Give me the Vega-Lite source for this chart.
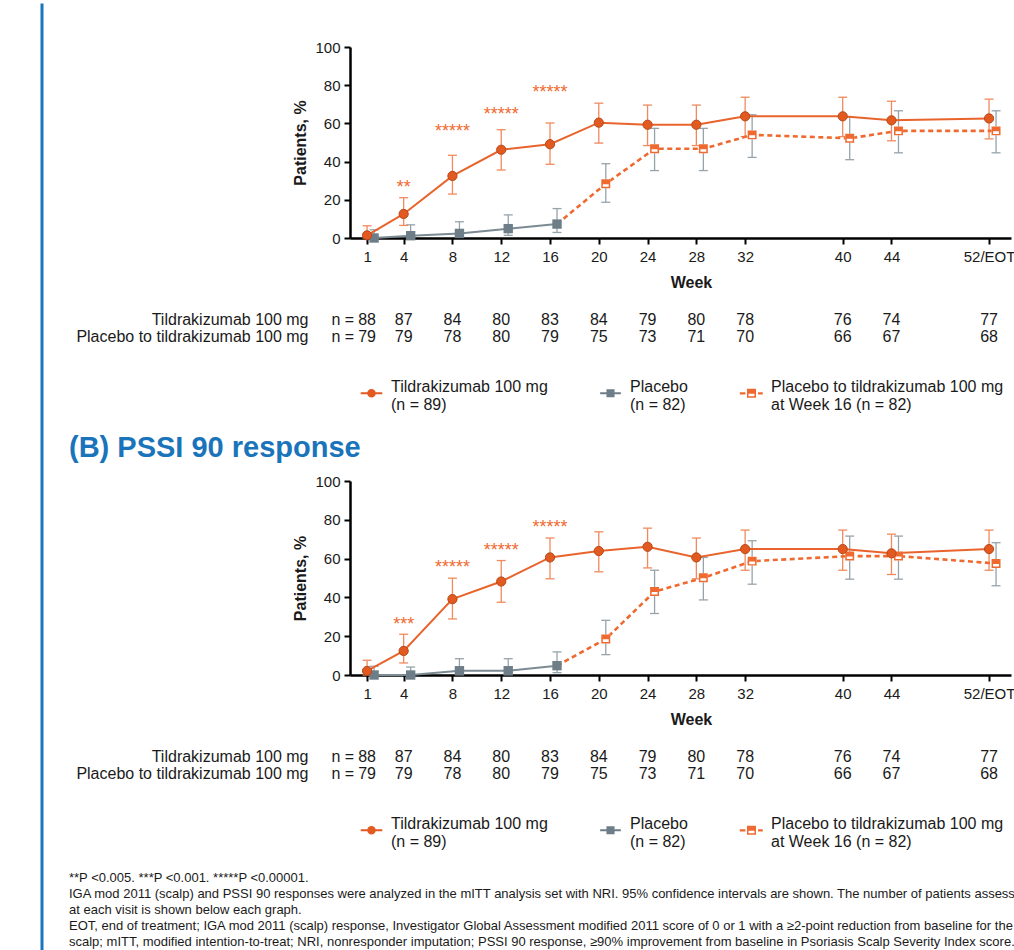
{
  "$schema": "https://vega.github.io/schema/vega-lite/v6.json",
  "padding": {"left": 38.5, "top": 0, "right": 0, "bottom": 0},
  "background": "white",
  "config": {
    "font": "Liberation Sans",
    "view": {"stroke": null},
    "axis": {"grid": false, "domainColor": "#000000", "domainWidth": 2.5, "tickColor": "#000000", "tickWidth": 2, "tickSize": 6, "labelFontSize": 15, "labelColor": "#1a1a1a", "titleFontSize": 16, "titleColor": "#1a1a1a", "titleFontWeight": "bold", "labelFont": "Liberation Sans", "titleFont": "Liberation Sans"},
    "axisX": {"labelPadding": 5, "titlePadding": 10, "labelAngle": 0, "labelFlush": false},
    "axisY": {"labelPadding": 4, "titlePadding": 6},
    "title": {"font": "Liberation Sans"},
    "legend": {"labelFont": "Liberation Sans"}
  },
  "datasets": {
    "points": [
      {"panel": "A", "series": "tild", "week": 1, "pct": 1.4, "lo": 0, "hi": 6.4},
      {"panel": "A", "series": "tild", "week": 4, "pct": 12.6, "lo": 6.6, "hi": 21.1},
      {"panel": "A", "series": "tild", "week": 8, "pct": 32.5, "lo": 23, "hi": 43.3},
      {"panel": "A", "series": "tild", "week": 12, "pct": 46.2, "lo": 35.6, "hi": 56.7},
      {"panel": "A", "series": "tild", "week": 16, "pct": 49.1, "lo": 38.6, "hi": 60.2},
      {"panel": "A", "series": "tild", "week": 20, "pct": 60.4, "lo": 49.7, "hi": 70.6},
      {"panel": "A", "series": "tild", "week": 24, "pct": 59.3, "lo": 48.4, "hi": 69.6},
      {"panel": "A", "series": "tild", "week": 28, "pct": 59.3, "lo": 48.4, "hi": 69.6},
      {"panel": "A", "series": "tild", "week": 32, "pct": 63.7, "lo": 53.1, "hi": 73.7},
      {"panel": "A", "series": "tild", "week": 40, "pct": 63.7, "lo": 53.1, "hi": 73.7},
      {"panel": "A", "series": "tild", "week": 44, "pct": 61.6, "lo": 50.9, "hi": 71.6},
      {"panel": "A", "series": "tild", "week": 52, "pct": 62.6, "lo": 51.9, "hi": 72.7},
      {"panel": "A", "series": "pbo", "week": 1, "pct": 0, "lo": 0, "hi": 4.3},
      {"panel": "A", "series": "pbo", "week": 4, "pct": 1.2, "lo": 0, "hi": 6.9},
      {"panel": "A", "series": "pbo", "week": 8, "pct": 2.4, "lo": 0.3, "hi": 8.5},
      {"panel": "A", "series": "pbo", "week": 12, "pct": 4.9, "lo": 1.4, "hi": 12.1},
      {"panel": "A", "series": "pbo", "week": 16, "pct": 7.3, "lo": 2.9, "hi": 15.4},
      {"panel": "A", "series": "switch", "week": 20, "pct": 28.4, "lo": 18.7, "hi": 38.9},
      {"panel": "A", "series": "switch", "week": 24, "pct": 46.7, "lo": 35.3, "hi": 57.4},
      {"panel": "A", "series": "switch", "week": 28, "pct": 46.7, "lo": 35.3, "hi": 57.4},
      {"panel": "A", "series": "switch", "week": 32, "pct": 54.0, "lo": 42.2, "hi": 64.5},
      {"panel": "A", "series": "switch", "week": 40, "pct": 52.2, "lo": 41.0, "hi": 63.3},
      {"panel": "A", "series": "switch", "week": 44, "pct": 56.1, "lo": 44.6, "hi": 66.6},
      {"panel": "A", "series": "switch", "week": 52, "pct": 56.1, "lo": 44.6, "hi": 66.6},
      {"panel": "B", "series": "tild", "week": 1, "pct": 2.1, "lo": 0, "hi": 7.6},
      {"panel": "B", "series": "tild", "week": 4, "pct": 12.4, "lo": 6.2, "hi": 21},
      {"panel": "B", "series": "tild", "week": 8, "pct": 39.1, "lo": 28.9, "hi": 49.9},
      {"panel": "B", "series": "tild", "week": 12, "pct": 48.2, "lo": 37.5, "hi": 59},
      {"panel": "B", "series": "tild", "week": 16, "pct": 60.6, "lo": 49.6, "hi": 70.6},
      {"panel": "B", "series": "tild", "week": 20, "pct": 63.9, "lo": 53.2, "hi": 73.8},
      {"panel": "B", "series": "tild", "week": 24, "pct": 66.1, "lo": 55.2, "hi": 75.7},
      {"panel": "B", "series": "tild", "week": 28, "pct": 60.6, "lo": 49.6, "hi": 70.6},
      {"panel": "B", "series": "tild", "week": 32, "pct": 64.9, "lo": 54.0, "hi": 74.7},
      {"panel": "B", "series": "tild", "week": 40, "pct": 64.9, "lo": 54.0, "hi": 74.7},
      {"panel": "B", "series": "tild", "week": 44, "pct": 62.7, "lo": 51.8, "hi": 72.6},
      {"panel": "B", "series": "tild", "week": 52, "pct": 64.9, "lo": 54.0, "hi": 74.7},
      {"panel": "B", "series": "pbo", "week": 1, "pct": 0, "lo": 0, "hi": 4.5},
      {"panel": "B", "series": "pbo", "week": 4, "pct": 0, "lo": 0, "hi": 4.1},
      {"panel": "B", "series": "pbo", "week": 8, "pct": 2.2, "lo": 0.2, "hi": 8.4},
      {"panel": "B", "series": "pbo", "week": 12, "pct": 2.2, "lo": 0.2, "hi": 8.4},
      {"panel": "B", "series": "pbo", "week": 16, "pct": 4.8, "lo": 1.2, "hi": 11.9},
      {"panel": "B", "series": "switch", "week": 20, "pct": 18.6, "lo": 10.5, "hi": 28.2},
      {"panel": "B", "series": "switch", "week": 24, "pct": 43.0, "lo": 31.7, "hi": 54.0},
      {"panel": "B", "series": "switch", "week": 28, "pct": 50.1, "lo": 38.7, "hi": 60.6},
      {"panel": "B", "series": "switch", "week": 32, "pct": 58.7, "lo": 46.8, "hi": 69.2},
      {"panel": "B", "series": "switch", "week": 40, "pct": 61.3, "lo": 49.4, "hi": 71.6},
      {"panel": "B", "series": "switch", "week": 44, "pct": 61.3, "lo": 49.4, "hi": 71.6},
      {"panel": "B", "series": "switch", "week": 52, "pct": 57.5, "lo": 46.0, "hi": 68.2}
    ],
    "stars": [
      {"panel": "A", "week": 4, "y": 28.3, "stars": "**"},
      {"panel": "A", "week": 8, "y": 57.6, "stars": "*****"},
      {"panel": "A", "week": 12, "y": 66.5, "stars": "*****"},
      {"panel": "A", "week": 16, "y": 78.2, "stars": "*****"},
      {"panel": "B", "week": 4, "y": 27.9, "stars": "***"},
      {"panel": "B", "week": 8, "y": 57.3, "stars": "*****"},
      {"panel": "B", "week": 12, "y": 65.9, "stars": "*****"},
      {"panel": "B", "week": 16, "y": 77.7, "stars": "*****"}
    ],
    "ntable": [
      {"group": "Tildrakizumab 100 mg", "week": 1, "n": 88},
      {"group": "Tildrakizumab 100 mg", "week": 4, "n": 87},
      {"group": "Tildrakizumab 100 mg", "week": 8, "n": 84},
      {"group": "Tildrakizumab 100 mg", "week": 12, "n": 80},
      {"group": "Tildrakizumab 100 mg", "week": 16, "n": 83},
      {"group": "Tildrakizumab 100 mg", "week": 20, "n": 84},
      {"group": "Tildrakizumab 100 mg", "week": 24, "n": 79},
      {"group": "Tildrakizumab 100 mg", "week": 28, "n": 80},
      {"group": "Tildrakizumab 100 mg", "week": 32, "n": 78},
      {"group": "Tildrakizumab 100 mg", "week": 40, "n": 76},
      {"group": "Tildrakizumab 100 mg", "week": 44, "n": 74},
      {"group": "Tildrakizumab 100 mg", "week": 52, "n": 77},
      {"group": "Placebo to tildrakizumab 100 mg", "week": 1, "n": 79},
      {"group": "Placebo to tildrakizumab 100 mg", "week": 4, "n": 79},
      {"group": "Placebo to tildrakizumab 100 mg", "week": 8, "n": 78},
      {"group": "Placebo to tildrakizumab 100 mg", "week": 12, "n": 80},
      {"group": "Placebo to tildrakizumab 100 mg", "week": 16, "n": 79},
      {"group": "Placebo to tildrakizumab 100 mg", "week": 20, "n": 75},
      {"group": "Placebo to tildrakizumab 100 mg", "week": 24, "n": 73},
      {"group": "Placebo to tildrakizumab 100 mg", "week": 28, "n": 71},
      {"group": "Placebo to tildrakizumab 100 mg", "week": 32, "n": 70},
      {"group": "Placebo to tildrakizumab 100 mg", "week": 40, "n": 66},
      {"group": "Placebo to tildrakizumab 100 mg", "week": 44, "n": 67},
      {"group": "Placebo to tildrakizumab 100 mg", "week": 52, "n": 68}
    ],
    "legend": [
      {"entry": "Tildrakizumab 100 mg|(n = 89)"},
      {"entry": "Placebo|(n = 82)"},
      {"entry": "Placebo to tildrakizumab 100 mg|at Week 16 (n = 82)"}
    ]
  },
  "spacing": 23.5,
  "hconcat": [
    {
      "width": 1,
      "height": 947,
      "data": {"values": [{"v": 0}, {"v": 1}]},
      "mark": {"type": "point", "opacity": 0},
      "encoding": {"y": {"field": "v", "type": "quantitative", "scale": {"domain": [0, 1], "nice": false}, "axis": {"domainColor": "#1b75bb", "domainWidth": 3, "labels": false, "ticks": false, "title": null, "grid": false}}}
    },
    {
      "spacing": 21,
      "resolve": {"scale": {"x": "independent", "color": "independent", "shape": "independent"}, "legend": {"color": "independent", "shape": "independent"}},
      "vconcat": [
        {
          "width": 661,
          "height": 15.5,
          "data": {"values": [{"k": 1}]},
          "mark": {"type": "point", "opacity": 0}
        },
        {
          "width": 661,
          "height": 191,
          "data": {"name": "points"},
          "transform": [{"filter": "datum.panel == 'A'"}],
          "encoding": {
            "x": {"field": "week", "type": "quantitative", "scale": {"domain": [-0.4, 53.8], "nice": false, "zero": false}, "axis": {"values": [1, 4, 8, 12, 16, 20, 24, 28, 32, 40, 44, 52], "labelExpr": "datum.value == 52 ? '52/EOT' : datum.label", "title": "Week", "titleX": 341}},
            "y": {"field": "pct", "type": "quantitative", "scale": {"domain": [0, 100], "nice": false}, "axis": {"values": [0, 20, 40, 60, 80, 100], "title": "Patients, %"}}
          },
          "layer": [
            {"transform": [{"filter": "datum.series != 'tild'"}], "mark": {"type": "rule", "color": "#97a3aa", "strokeWidth": 1.3, "xOffset": 7}, "encoding": {"y": {"field": "lo", "type": "quantitative"}, "y2": {"field": "hi"}}},
            {"transform": [{"filter": "datum.series != 'tild'"}], "mark": {"type": "tick", "orient": "horizontal", "color": "#97a3aa", "size": 9, "thickness": 1.3, "opacity": 1, "xOffset": 7}, "encoding": {"y": {"field": "hi", "type": "quantitative"}}},
            {"transform": [{"filter": "datum.series != 'tild'"}], "mark": {"type": "tick", "orient": "horizontal", "color": "#97a3aa", "size": 9, "thickness": 1.3, "opacity": 1, "xOffset": 7}, "encoding": {"y": {"field": "lo", "type": "quantitative"}}},
            {"transform": [{"filter": "datum.series == 'tild'"}], "mark": {"type": "rule", "color": "#f08a5e", "strokeWidth": 1.3}, "encoding": {"y": {"field": "lo", "type": "quantitative"}, "y2": {"field": "hi"}}},
            {"transform": [{"filter": "datum.series == 'tild'"}], "mark": {"type": "tick", "orient": "horizontal", "color": "#f08a5e", "size": 9, "thickness": 1.3, "opacity": 1}, "encoding": {"y": {"field": "hi", "type": "quantitative"}}},
            {"transform": [{"filter": "datum.series == 'tild'"}], "mark": {"type": "tick", "orient": "horizontal", "color": "#f08a5e", "size": 9, "thickness": 1.3, "opacity": 1}, "encoding": {"y": {"field": "lo", "type": "quantitative"}}},
            {"transform": [{"filter": "datum.series == 'pbo'"}], "mark": {"type": "line", "color": "#7b8a93", "strokeWidth": 2, "xOffset": 7}},
            {"transform": [{"filter": "datum.series == 'switch' || (datum.series == 'pbo' && datum.week == 16)"}], "mark": {"type": "line", "color": "#ef6a30", "strokeWidth": 2.6, "strokeDash": [5, 3.5], "xOffset": 7}},
            {"transform": [{"filter": "datum.series == 'tild'"}], "mark": {"type": "line", "color": "#e8642c", "strokeWidth": 2}},
            {"transform": [{"filter": "datum.series == 'pbo'"}], "mark": {"type": "point", "shape": "square", "filled": true, "fill": "#6d7e88", "size": 88, "opacity": 1, "strokeWidth": 0, "xOffset": 7}},
            {"transform": [{"filter": "datum.series == 'switch'"}], "mark": {"type": "point", "shape": "square", "filled": true, "fill": "#ffffff", "size": 80, "opacity": 1, "strokeWidth": 0, "xOffset": 7}},
            {"transform": [{"filter": "datum.series == 'switch'"}], "mark": {"type": "point", "shape": "M-1,-1H1V0H-1Z M-1,0H1V1H-1Z M-0.66,0.1V0.68H0.66V0.1Z", "filled": true, "fill": "#ef6a30", "size": 80, "opacity": 1, "strokeWidth": 0, "xOffset": 7}},
            {"transform": [{"filter": "datum.series == 'tild'"}], "mark": {"type": "point", "shape": "circle", "filled": true, "fill": "#e35a20", "stroke": "#b6481a", "strokeWidth": 1, "size": 85, "opacity": 1}},
            {"data": {"name": "stars"}, "transform": [{"filter": "datum.panel == 'A'"}], "mark": {"type": "text", "color": "#ef6a30", "fontSize": 18, "baseline": "middle", "dy": 4}, "encoding": {"x": {"field": "week", "type": "quantitative"}, "y": {"field": "y", "type": "quantitative"}, "text": {"field": "stars"}}}
          ]
        },
        {
          "width": 661,
          "height": 34,
          "layer": [
            {"data": {"name": "ntable"}, "mark": {"type": "text", "fontSize": 16, "color": "#1a1a1a", "baseline": "middle"}, "encoding": {"x": {"field": "week", "type": "quantitative", "scale": {"domain": [-0.4, 53.8], "nice": false, "zero": false}, "axis": null}, "y": {"field": "group", "type": "nominal", "scale": {"domain": ["Tildrakizumab 100 mg", "Placebo to tildrakizumab 100 mg"], "paddingInner": 0, "paddingOuter": 0}, "axis": {"domain": false, "ticks": false, "labelPadding": 42, "labelFontSize": 16, "labelColor": "#1a1a1a", "labelLimit": 400, "title": null}}, "text": {"field": "n"}}},
            {"data": {"name": "ntable"}, "transform": [{"filter": "datum.week == 1"}], "mark": {"type": "text", "fontSize": 16, "color": "#1a1a1a", "baseline": "middle", "align": "right", "dx": -13, "text": "n ="}, "encoding": {"x": {"field": "week", "type": "quantitative"}, "y": {"field": "group", "type": "nominal"}}},
            {"data": {"name": "legend"}, "transform": [{"filter": "datum.entry == null"}], "mark": {"type": "point", "filled": true, "opacity": 1}, "encoding": {
              "color": {"field": "entry", "type": "nominal", "scale": {"domain": ["Tildrakizumab 100 mg|(n = 89)", "Placebo|(n = 82)", "Placebo to tildrakizumab 100 mg|at Week 16 (n = 82)"], "range": ["#e35a20", "#6d7e88", "#ef6a30"]}, "legend": {"orient": "none", "legendX": 13.5, "legendY": 68, "direction": "horizontal", "title": null, "labelExpr": "split(datum.label, '|')", "labelFontSize": 16, "labelColor": "#1a1a1a", "labelOffset": 11.5, "symbolSize": 81, "symbolStrokeWidth": 0, "columnPadding": 51, "labelLimit": 500, "padding": 0, "gridAlign": "each"}},
              "shape": {"field": "entry", "type": "nominal", "scale": {"domain": ["Tildrakizumab 100 mg|(n = 89)", "Placebo|(n = 82)", "Placebo to tildrakizumab 100 mg|at Week 16 (n = 82)"], "range": ["M-2.4,1.18H2.4V1.62H-2.4Z M0.95,1.4A0.95,0.95,0,1,1,-0.95,1.4A0.95,0.95,0,1,1,0.95,1.4Z", "M-2.3,1.18H2.3V1.62H-2.3Z M-0.9,0.5H0.9V2.3H-0.9Z", "M-2.6,1.15H-1.35V1.65H-2.6Z M1.45,1.15H2.5V1.65H1.45Z M-1,0.4H1V1.4H-1Z M-1,1.4H1V2.4H-1Z M-0.66,1.5V2.08H0.66V1.5Z"]}, "legend": {"orient": "none", "legendX": 13.5, "legendY": 68, "direction": "horizontal", "title": null, "labelExpr": "split(datum.label, '|')", "labelFontSize": 16, "labelColor": "#1a1a1a", "labelOffset": 11.5, "symbolSize": 81, "symbolStrokeWidth": 0, "columnPadding": 51, "labelLimit": 500, "padding": 0, "gridAlign": "each"}}
            }}
          ]
        },
        {
          "width": 661,
          "height": 194,
          "title": {"text": "(B) PSSI 90 response", "anchor": "start", "frame": "group", "dx": -281, "fontSize": 29, "fontWeight": "bold", "color": "#1a74bb", "offset": 11},
          "data": {"name": "points"},
          "transform": [{"filter": "datum.panel == 'B'"}],
          "encoding": {
            "x": {"field": "week", "type": "quantitative", "scale": {"domain": [-0.4, 53.8], "nice": false, "zero": false}, "axis": {"values": [1, 4, 8, 12, 16, 20, 24, 28, 32, 40, 44, 52], "labelExpr": "datum.value == 52 ? '52/EOT' : datum.label", "title": "Week", "titleX": 341}},
            "y": {"field": "pct", "type": "quantitative", "scale": {"domain": [0, 100], "nice": false}, "axis": {"values": [0, 20, 40, 60, 80, 100], "title": "Patients, %"}}
          },
          "layer": [
            {"transform": [{"filter": "datum.series != 'tild'"}], "mark": {"type": "rule", "color": "#97a3aa", "strokeWidth": 1.3, "xOffset": 7}, "encoding": {"y": {"field": "lo", "type": "quantitative"}, "y2": {"field": "hi"}}},
            {"transform": [{"filter": "datum.series != 'tild'"}], "mark": {"type": "tick", "orient": "horizontal", "color": "#97a3aa", "size": 9, "thickness": 1.3, "opacity": 1, "xOffset": 7}, "encoding": {"y": {"field": "hi", "type": "quantitative"}}},
            {"transform": [{"filter": "datum.series != 'tild'"}], "mark": {"type": "tick", "orient": "horizontal", "color": "#97a3aa", "size": 9, "thickness": 1.3, "opacity": 1, "xOffset": 7}, "encoding": {"y": {"field": "lo", "type": "quantitative"}}},
            {"transform": [{"filter": "datum.series == 'tild'"}], "mark": {"type": "rule", "color": "#f08a5e", "strokeWidth": 1.3}, "encoding": {"y": {"field": "lo", "type": "quantitative"}, "y2": {"field": "hi"}}},
            {"transform": [{"filter": "datum.series == 'tild'"}], "mark": {"type": "tick", "orient": "horizontal", "color": "#f08a5e", "size": 9, "thickness": 1.3, "opacity": 1}, "encoding": {"y": {"field": "hi", "type": "quantitative"}}},
            {"transform": [{"filter": "datum.series == 'tild'"}], "mark": {"type": "tick", "orient": "horizontal", "color": "#f08a5e", "size": 9, "thickness": 1.3, "opacity": 1}, "encoding": {"y": {"field": "lo", "type": "quantitative"}}},
            {"transform": [{"filter": "datum.series == 'pbo'"}], "mark": {"type": "line", "color": "#7b8a93", "strokeWidth": 2, "xOffset": 7}},
            {"transform": [{"filter": "datum.series == 'switch' || (datum.series == 'pbo' && datum.week == 16)"}], "mark": {"type": "line", "color": "#ef6a30", "strokeWidth": 2.6, "strokeDash": [5, 3.5], "xOffset": 7}},
            {"transform": [{"filter": "datum.series == 'tild'"}], "mark": {"type": "line", "color": "#e8642c", "strokeWidth": 2}},
            {"transform": [{"filter": "datum.series == 'pbo'"}], "mark": {"type": "point", "shape": "square", "filled": true, "fill": "#6d7e88", "size": 88, "opacity": 1, "strokeWidth": 0, "xOffset": 7}},
            {"transform": [{"filter": "datum.series == 'switch'"}], "mark": {"type": "point", "shape": "square", "filled": true, "fill": "#ffffff", "size": 80, "opacity": 1, "strokeWidth": 0, "xOffset": 7}},
            {"transform": [{"filter": "datum.series == 'switch'"}], "mark": {"type": "point", "shape": "M-1,-1H1V0H-1Z M-1,0H1V1H-1Z M-0.66,0.1V0.68H0.66V0.1Z", "filled": true, "fill": "#ef6a30", "size": 80, "opacity": 1, "strokeWidth": 0, "xOffset": 7}},
            {"transform": [{"filter": "datum.series == 'tild'"}], "mark": {"type": "point", "shape": "circle", "filled": true, "fill": "#e35a20", "stroke": "#b6481a", "strokeWidth": 1, "size": 85, "opacity": 1}},
            {"data": {"name": "stars"}, "transform": [{"filter": "datum.panel == 'B'"}], "mark": {"type": "text", "color": "#ef6a30", "fontSize": 18, "baseline": "middle", "dy": 4}, "encoding": {"x": {"field": "week", "type": "quantitative"}, "y": {"field": "y", "type": "quantitative"}, "text": {"field": "stars"}}}
          ]
        },
        {
          "width": 661,
          "height": 34,
          "title": {"text": ["**P <0.005. ***P <0.001. *****P <0.00001.", "IGA mod 2011 (scalp) and PSSI 90 responses were analyzed in the mITT analysis set with NRI. 95% confidence intervals are shown. The number of patients assess", "at each visit is shown below each graph.", "EOT, end of treatment; IGA mod 2011 (scalp) response, Investigator Global Assessment modified 2011 score of 0 or 1 with a ≥2-point reduction from baseline for the", "scalp; mITT, modified intention-to-treat; NRI, nonresponder imputation; PSSI 90 response, ≥90% improvement from baseline in Psoriasis Scalp Severity Index score."], "orient": "bottom", "anchor": "start", "frame": "group", "dx": -281, "fontSize": 13, "fontWeight": "normal", "color": "#1a1a1a", "lineHeight": 16, "offset": 22, "limit": 0},
          "layer": [
            {"data": {"name": "ntable"}, "mark": {"type": "text", "fontSize": 16, "color": "#1a1a1a", "baseline": "middle"}, "encoding": {"x": {"field": "week", "type": "quantitative", "scale": {"domain": [-0.4, 53.8], "nice": false, "zero": false}, "axis": null}, "y": {"field": "group", "type": "nominal", "scale": {"domain": ["Tildrakizumab 100 mg", "Placebo to tildrakizumab 100 mg"], "paddingInner": 0, "paddingOuter": 0}, "axis": {"domain": false, "ticks": false, "labelPadding": 42, "labelFontSize": 16, "labelColor": "#1a1a1a", "labelLimit": 400, "title": null}}, "text": {"field": "n"}}},
            {"data": {"name": "ntable"}, "transform": [{"filter": "datum.week == 1"}], "mark": {"type": "text", "fontSize": 16, "color": "#1a1a1a", "baseline": "middle", "align": "right", "dx": -13, "text": "n ="}, "encoding": {"x": {"field": "week", "type": "quantitative"}, "y": {"field": "group", "type": "nominal"}}},
            {"data": {"name": "legend"}, "transform": [{"filter": "datum.entry == null"}], "mark": {"type": "point", "filled": true, "opacity": 1}, "encoding": {
              "color": {"field": "entry", "type": "nominal", "scale": {"domain": ["Tildrakizumab 100 mg|(n = 89)", "Placebo|(n = 82)", "Placebo to tildrakizumab 100 mg|at Week 16 (n = 82)"], "range": ["#e35a20", "#6d7e88", "#ef6a30"]}, "legend": {"orient": "none", "legendX": 13.5, "legendY": 68, "direction": "horizontal", "title": null, "labelExpr": "split(datum.label, '|')", "labelFontSize": 16, "labelColor": "#1a1a1a", "labelOffset": 11.5, "symbolSize": 81, "symbolStrokeWidth": 0, "columnPadding": 51, "labelLimit": 500, "padding": 0, "gridAlign": "each"}},
              "shape": {"field": "entry", "type": "nominal", "scale": {"domain": ["Tildrakizumab 100 mg|(n = 89)", "Placebo|(n = 82)", "Placebo to tildrakizumab 100 mg|at Week 16 (n = 82)"], "range": ["M-2.4,1.18H2.4V1.62H-2.4Z M0.95,1.4A0.95,0.95,0,1,1,-0.95,1.4A0.95,0.95,0,1,1,0.95,1.4Z", "M-2.3,1.18H2.3V1.62H-2.3Z M-0.9,0.5H0.9V2.3H-0.9Z", "M-2.6,1.15H-1.35V1.65H-2.6Z M1.45,1.15H2.5V1.65H1.45Z M-1,0.4H1V1.4H-1Z M-1,1.4H1V2.4H-1Z M-0.66,1.5V2.08H0.66V1.5Z"]}, "legend": {"orient": "none", "legendX": 13.5, "legendY": 68, "direction": "horizontal", "title": null, "labelExpr": "split(datum.label, '|')", "labelFontSize": 16, "labelColor": "#1a1a1a", "labelOffset": 11.5, "symbolSize": 81, "symbolStrokeWidth": 0, "columnPadding": 51, "labelLimit": 500, "padding": 0, "gridAlign": "each"}}
            }}
          ]
        }
      ]
    }
  ]
}
